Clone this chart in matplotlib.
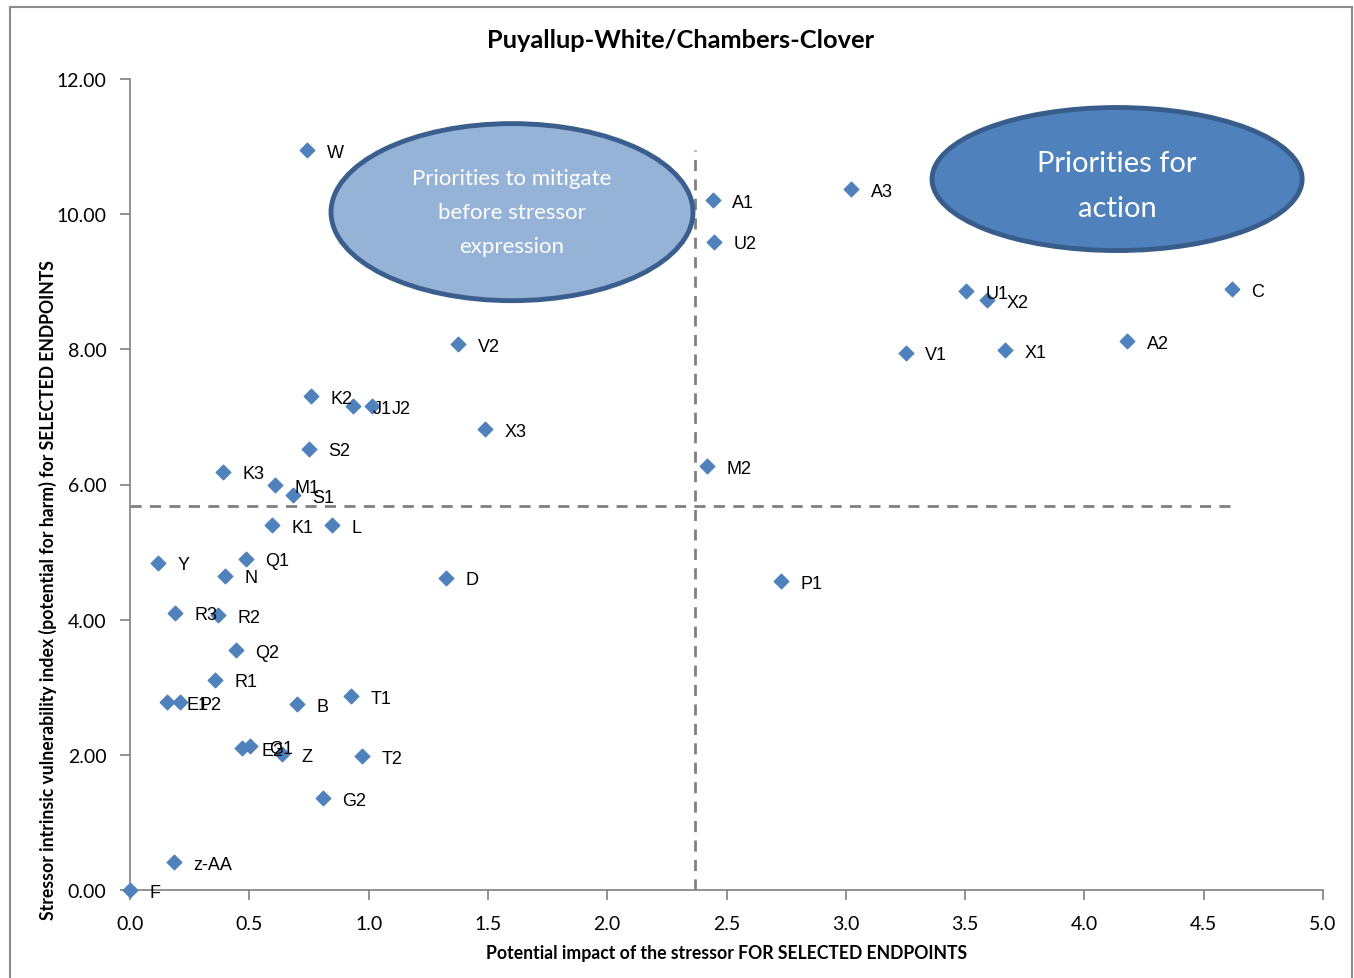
import matplotlib
matplotlib.use('Agg')
import matplotlib.pyplot as plt
from matplotlib.patches import Ellipse, Rectangle

# Stressor labels, potential impact (x) and vulnerability index (y)
labels = ['W', 'A1', 'A3', 'U2', 'U1', 'X2', 'C', 'A2', 'V1', 'X1',
          'V2', 'K2', 'J1', 'J2', 'X3', 'S2', 'K3', 'M1', 'S1', 'M2',
          'K1', 'L', 'Y', 'Q1', 'N', 'D', 'P1', 'R3', 'R2', 'Q2',
          'R1', 'E1', 'P2', 'B', 'T1', 'E2', 'G1', 'Z', 'T2', 'G2',
          'z-AA', 'F']
impact = [0.742, 2.443, 3.022, 2.448, 3.504, 3.592, 4.619, 4.179, 3.252, 3.667,
          1.375, 0.759, 0.935, 1.014, 1.488, 0.750, 0.390, 0.608, 0.683, 2.418,
          0.595, 0.847, 0.117, 0.486, 0.398, 1.324, 2.728, 0.189, 0.369, 0.444,
          0.356, 0.155, 0.210, 0.700, 0.926, 0.469, 0.503, 0.637, 0.972, 0.809,
          0.184, 0.0]
vulner = [10.95, 10.21, 10.37, 9.59, 8.86, 8.73, 8.89, 8.12, 7.95, 7.99,
          8.08, 7.31, 7.16, 7.16, 6.82, 6.53, 6.19, 5.99, 5.84, 6.27,
          5.40, 5.40, 4.84, 4.90, 4.65, 4.62, 4.57, 4.10, 4.07, 3.55,
          3.11, 2.78, 2.78, 2.75, 2.87, 2.10, 2.13, 2.01, 1.98, 1.36,
          0.41, 0.0]

x_mean = 2.368
y_mean = 5.68

fig = plt.figure(figsize=(13.54, 9.79), dpi=100)
ax = fig.add_axes([130/1354, 88/979, 1193/1354, 811/979])

# outer chart border
fig.patches.append(Rectangle((10/1354, -0.02), 1342/1354, 1.0 - 8/979 + 0.02,
                             transform=fig.transFigure, fill=False,
                             edgecolor='#8c8c8c', linewidth=1.5, clip_on=False))

ax.scatter(impact, vulner, marker='D', s=55, color='#4F81BD', zorder=3, clip_on=False)
for lab, xv, yv in zip(labels, impact, vulner):
    ax.annotate(lab, (xv, yv), xytext=(14, -1.5), textcoords='offset points',
                va='center', ha='left', fontsize=13, family='Liberation Sans',
                color='black', zorder=4)

# quadrant lines
ax.plot([x_mean, x_mean], [0, max(vulner)], ls=(0, (4, 3)), color='#808080', lw=2, zorder=2)
ax.plot([0, max(impact)], [y_mean, y_mean], ls=(0, (4, 3)), color='#808080', lw=2, zorder=2)

# ellipses
e1 = Ellipse((1.601, 10.03), 1.517, 2.62, facecolor='#95B3D7', edgecolor='#3A5F8F',
             linewidth=3.5, zorder=5)
ax.add_patch(e1)
ax.text(1.601, 10.03, 'Priorities to mitigate\nbefore stressor\nexpression', color='white',
        ha='center', va='center', fontsize=16, family='Lato', linespacing=1.88, zorder=6)
e2 = Ellipse((4.137, 10.52), 1.551, 2.116, facecolor='#4F81BD', edgecolor='#385D8A',
             linewidth=3.5, zorder=5)
ax.add_patch(e2)
ax.text(4.137, 10.42, 'Priorities for\naction', color='white',
        ha='center', va='center', fontsize=21, family='Lato', linespacing=1.9, zorder=6)

ax.set_xlim(0, 5.0)
ax.set_ylim(0, 12.0)
ax.set_xticks([0.0, 0.5, 1.0, 1.5, 2.0, 2.5, 3.0, 3.5, 4.0, 4.5, 5.0])
ax.set_yticks([0, 2, 4, 6, 8, 10, 12])
ax.set_xticklabels(['%.1f' % v for v in ax.get_xticks()], family='Lato', fontsize=14)
ax.set_yticklabels(['%.2f' % v for v in ax.get_yticks()], family='Lato', fontsize=14)
ax.tick_params(axis='both', direction='out', length=7, width=1.2, color='#808080')
ax.tick_params(axis='x', pad=11)
ax.tick_params(axis='y', pad=10)

for side in ['top', 'right']:
    ax.spines[side].set_visible(False)
for side in ['left', 'bottom']:
    ax.spines[side].set_color('#808080')
    ax.spines[side].set_linewidth(1.2)

ax.set_xlabel('Potential impact of the stressor FOR SELECTED ENDPOINTS', family='Lato',
              fontweight='bold', fontsize=12.7, labelpad=9)
ax.set_ylabel('Stressor intrinsic vulnerability index (potential for harm) for SELECTED ENDPOINTS',
              family='Lato', fontweight='bold', fontsize=12.7)
ax.yaxis.set_label_coords(-0.061, 0.371)
fig.text(680/1354, 1 - 40/979, 'Puyallup-White/Chambers-Clover', ha='center', va='center',
         family='Lato', fontweight='bold', fontsize=18.3)

fig.savefig('out.png', dpi=100)
